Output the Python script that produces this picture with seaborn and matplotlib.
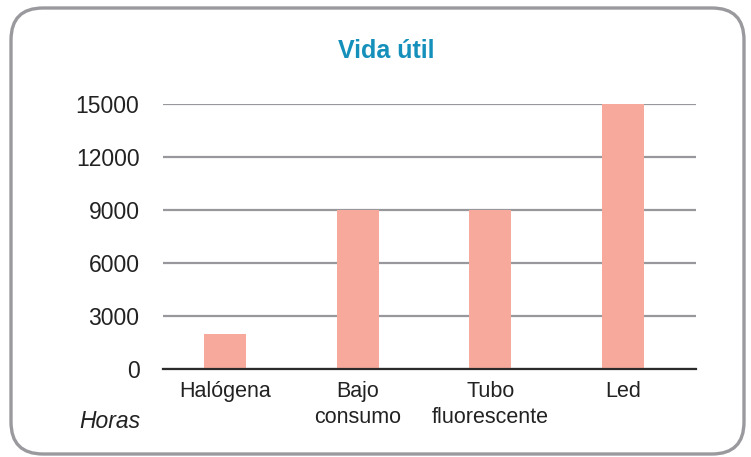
import matplotlib
matplotlib.use("Agg")
import matplotlib.pyplot as plt
import seaborn as sns
from matplotlib.patches import FancyBboxPatch

# data
categories = ["Halógena", "Bajo\nconsumo", "Tubo\nfluorescente", "Led"]
hours = [2000, 9000, 9000, 15000]
yticks = [0, 3000, 6000, 9000, 12000, 15000]

sns.set_theme(style="white")
plt.rcParams["font.family"] = ["Liberation Sans", "DejaVu Sans"]

fig = plt.figure(figsize=(7.51, 4.57), dpi=100)
ax = fig.add_axes([163 / 751, 1 - 369 / 457, (696 - 163) / 751, (369 - 104) / 457])

sns.barplot(x=categories, y=hours, color="#f7aa9c", saturation=1, width=0.316,
            linewidth=0, ax=ax)

ax.set_ylim(0, 15000)
ax.set_xlim(-0.466, 3.55)
ax.set_yticks(yticks)
ax.set_yticklabels([str(t) for t in yticks])
ax.yaxis.grid(True, color="#98989c", linewidth=1.6)
ax.set_axisbelow(True)
for s in ["left", "right", "top"]:
    ax.spines[s].set_visible(False)
ax.spines["bottom"].set_color("#2b2b2b")
ax.spines["bottom"].set_linewidth(1.6)
ax.tick_params(axis="y", length=0, pad=17, labelsize=16.5, colors="#222222")
ax.tick_params(axis="x", length=0, pad=8.5, labelsize=15.5, colors="#222222")
for lbl in ax.get_xticklabels():
    lbl.set_linespacing(1.3)
ax.set_xlabel("")
ax.set_ylabel("")

fig.text(386 / 751, 1 - 51 / 457, "Vida útil", ha="center", va="center",
         fontsize=18, fontweight="bold", color="#1590bb")
fig.text(140 / 751, 1 - 421 / 457, "Horas", ha="right", va="center",
         fontsize=16.5, style="italic", color="#222222")

frame = FancyBboxPatch((0.11, 0.03), 7.33, 4.46, boxstyle="round,pad=0,rounding_size=0.32",
                       transform=fig.dpi_scale_trans, facecolor="none",
                       edgecolor="#9a9a9e", linewidth=2.4)
fig.patches.append(frame)

fig.savefig("out.png", dpi=100)
